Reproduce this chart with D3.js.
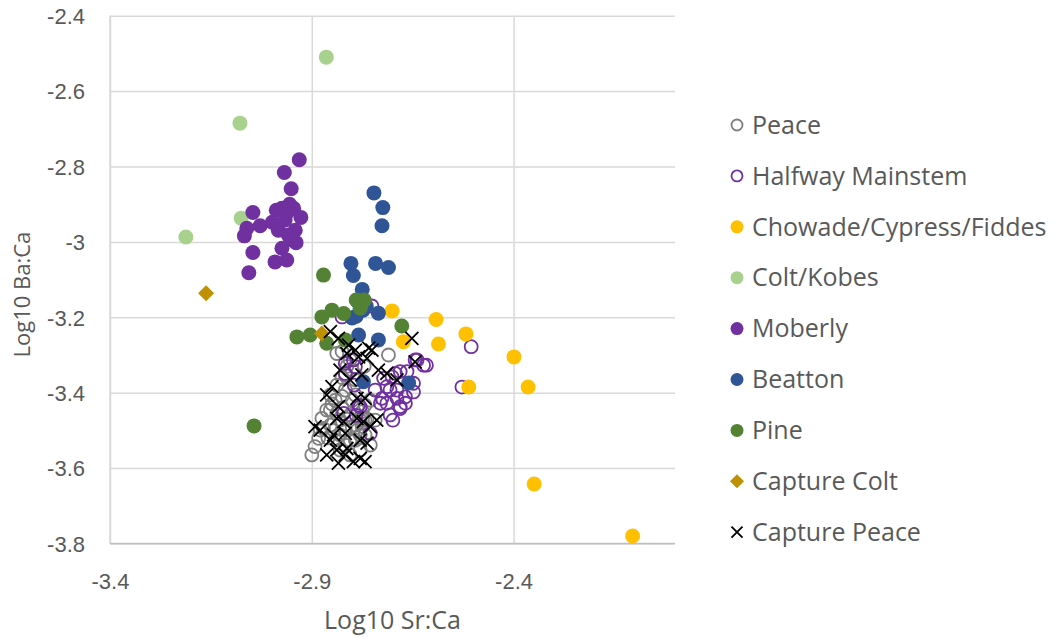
<!DOCTYPE html>
<html>
<head>
<meta charset="utf-8">
<script src="https://cdn.jsdelivr.net/npm/d3@7"></script>
<style>
  html, body { margin: 0; padding: 0; background: #fff; }
  svg { display: block; font-family: "Open Sans", "Noto Sans", sans-serif; }
</style>
</head>
<body>
<svg id="chart" width="1055" height="638"></svg>
<script>
// Log10 Sr:Ca (x) vs Log10 Ba:Ca (y) by sampling group
const peace = [
  [-2.900,-3.565],[-2.892,-3.543],[-2.883,-3.521],[-2.879,-3.499],[-2.875,-3.468],
  [-2.863,-3.446],[-2.871,-3.495],[-2.854,-3.486],[-2.842,-3.526],[-2.830,-3.552],
  [-2.817,-3.539],[-2.805,-3.565],[-2.792,-3.526],[-2.780,-3.552],[-2.768,-3.512],
  [-2.780,-3.473],[-2.805,-3.459],[-2.817,-3.499],[-2.830,-3.473],[-2.842,-3.420],
  [-2.817,-3.393],[-2.792,-3.406],[-2.768,-3.433],[-2.755,-3.420],[-2.743,-3.473],
  [-2.838,-3.296],[-2.825,-3.291],[-2.805,-3.313],[-2.817,-3.353],[-2.792,-3.366],
  [-2.710,-3.300],[-2.854,-3.406],[-2.755,-3.539],[-2.792,-3.486],[-2.830,-3.512],
  [-2.768,-3.473],[-2.805,-3.526],[-2.780,-3.512],[-2.854,-3.446],
  [-2.850,-3.430],[-2.838,-3.455],[-2.825,-3.440],[-2.813,-3.470],[-2.800,-3.490],
  [-2.788,-3.500],[-2.775,-3.490],[-2.763,-3.470],[-2.800,-3.420],[-2.788,-3.440],
  [-2.775,-3.450],[-2.838,-3.380],[-2.825,-3.360],[-2.813,-3.330],[-2.800,-3.340],
  [-2.825,-3.410],[-2.845,-3.500],[-2.860,-3.520],[-2.770,-3.330]
];
const halfwayMainstem = [
  [-2.751,-3.170],[-2.825,-3.199],[-2.505,-3.278],[-2.528,-3.385],[-2.616,-3.327],
  [-2.644,-3.313],[-2.648,-3.398],[-2.817,-3.322],[-2.792,-3.331],[-2.623,-3.327],
  [-2.639,-3.313],[-2.664,-3.344],[-2.693,-3.349],[-2.706,-3.393],[-2.689,-3.415],
  [-2.714,-3.428],[-2.681,-3.437],[-2.706,-3.459],[-2.784,-3.433],[-2.755,-3.508],
  [-2.821,-3.455],[-2.726,-3.415],[-2.668,-3.411],[-2.648,-3.375],[-2.668,-3.428],
  [-2.730,-3.428],[-2.681,-3.442],[-2.681,-3.344],[-2.722,-3.362],[-2.701,-3.358],
  [-2.797,-3.313],[-2.689,-3.393],[-2.714,-3.384],[-2.743,-3.393],[-2.699,-3.473],
  [-2.817,-3.349],[-2.780,-3.437],[-2.795,-3.380],[-2.790,-3.460]
];
const chowade = [
  [-2.592,-3.206],[-2.518,-3.244],[-2.586,-3.271],[-2.399,-3.305],[-2.511,-3.385],
  [-2.364,-3.385],[-2.349,-3.642],[-2.105,-3.780],[-2.673,-3.265],[-2.701,-3.183]
];
const coltKobes = [
  [-2.864,-2.510],[-3.078,-2.685],[-3.212,-2.987],[-3.075,-2.937]
];
const moberly = [
  [-2.931,-2.782],[-2.968,-2.816],[-2.951,-2.859],[-3.046,-2.922],[-2.988,-2.916],
  [-2.955,-2.900],[-2.945,-2.911],[-2.927,-2.935],[-3.028,-2.957],[-3.061,-2.964],
  [-3.067,-2.984],[-2.983,-2.969],[-2.966,-2.942],[-2.941,-2.969],[-2.958,-2.982],
  [-2.939,-3.002],[-2.974,-3.017],[-3.046,-3.028],[-2.991,-3.053],[-2.962,-3.048],
  [-3.056,-3.082],[-2.962,-2.924],[-2.974,-2.911],[-2.949,-2.995],[-2.998,-2.948]
];
const beatton = [
  [-2.746,-2.870],[-2.724,-2.909],[-2.726,-2.957],[-2.803,-3.057],[-2.742,-3.057],
  [-2.710,-3.068],[-2.797,-3.089],[-2.775,-3.126],[-2.785,-3.160],[-2.773,-3.181],
  [-2.790,-3.197],[-2.765,-3.170],[-2.735,-3.189],[-2.784,-3.247],[-2.735,-3.260],
  [-2.772,-3.371],[-2.660,-3.374],[-2.800,-3.202]
];
const pine = [
  [-2.871,-3.088],[-2.776,-3.163],[-2.780,-3.176],[-2.875,-3.199],[-2.850,-3.181],
  [-2.821,-3.190],[-2.677,-3.223],[-2.937,-3.252],[-2.904,-3.247],[-2.863,-3.269],
  [-2.817,-3.260],[-3.043,-3.488],[-2.790,-3.154],[-2.770,-3.154]
];
const captureColt = [
  [-3.162,-3.136],[-2.875,-3.243]
];
const capturePeace = [
  [-2.854,-3.238],[-2.834,-3.256],[-2.809,-3.274],[-2.792,-3.287],[-2.813,-3.296],
  [-2.784,-3.305],[-2.652,-3.256],[-2.644,-3.318],[-2.689,-3.366],[-2.751,-3.287],
  [-2.763,-3.309],[-2.735,-3.340],[-2.714,-3.349],[-2.759,-3.282],[-2.776,-3.353],
  [-2.850,-3.384],[-2.863,-3.406],[-2.788,-3.415],[-2.834,-3.437],[-2.772,-3.477],
  [-2.739,-3.473],[-2.879,-3.499],[-2.838,-3.468],[-2.817,-3.508],[-2.854,-3.526],
  [-2.838,-3.552],[-2.817,-3.565],[-2.780,-3.574],[-2.834,-3.587],[-2.768,-3.583],
  [-2.863,-3.565],[-2.892,-3.490],[-2.846,-3.512],[-2.821,-3.477],[-2.788,-3.468],
  [-2.813,-3.548],[-2.797,-3.583],[-2.780,-3.526],[-2.768,-3.415],[-2.755,-3.490],
  [-2.763,-3.534],[-2.805,-3.366],[-2.830,-3.340]
];

const seriesNames = ["Peace","Halfway Mainstem","Chowade/Cypress/Fiddes","Colt/Kobes",
  "Moberly","Beatton","Pine","Capture Colt","Capture Peace"];
const xTicks = [-3.4, -2.9, -2.4];
const yTicks = [-2.4, -2.6, -2.8, -3.0, -3.2, -3.4, -3.6, -3.8];
const xTitle = "Log10 Sr:Ca";
const yTitle = "Log10 Ba:Ca";

const series = [
  { name: seriesNames[0], data: peace,           shape: "open",    color: "#7f7f7f" },
  { name: seriesNames[1], data: halfwayMainstem, shape: "open",    color: "#7030a0" },
  { name: seriesNames[2], data: chowade,         shape: "circle",  color: "#ffc000" },
  { name: seriesNames[3], data: coltKobes,       shape: "circle",  color: "#a9d18e" },
  { name: seriesNames[4], data: moberly,         shape: "circle",  color: "#7030a0" },
  { name: seriesNames[5], data: beatton,         shape: "circle",  color: "#2f5597" },
  { name: seriesNames[6], data: pine,            shape: "circle",  color: "#548235" },
  { name: seriesNames[7], data: captureColt,     shape: "diamond", color: "#bf9000" },
  { name: seriesNames[8], data: capturePeace,    shape: "cross",   color: "#000000" }
];

const svg = d3.select("#chart");
const plot = { left: 110, right: 675, top: 15.7, bottom: 543.5 };

const x = d3.scaleLinear().domain([-3.4, -2.0]).range([plot.left, plot.right]);
const y = d3.scaleLinear().domain([-2.4, -3.8]).range([plot.top, plot.bottom]);

const gridColor = "#d9d9d9";
const textColor = "#595959";
// plain hyphen-minus labels, "-3" rather than "-3.0"
const fmt = d => String(+d.toFixed(1));

// horizontal gridlines
const yAxis = d3.axisLeft(y).tickValues(yTicks).tickSize(-(plot.right - plot.left)).tickFormat(fmt);
const gy = svg.append("g").attr("transform", `translate(${plot.left},0)`).call(yAxis);
gy.select(".domain").remove();
gy.selectAll(".tick line").attr("stroke", gridColor).attr("stroke-width", 1.5);
gy.selectAll(".tick text").attr("x", -25).attr("fill", textColor)
  .style("font-size", "22px").attr("dy", "0.35em");

// vertical gridlines
const xAxis = d3.axisBottom(x).tickValues(xTicks).tickSize(-(plot.bottom - plot.top)).tickFormat(fmt);
const gx = svg.append("g").attr("transform", `translate(0,${plot.bottom})`).call(xAxis);
gx.select(".domain").remove();
gx.selectAll(".tick line").attr("stroke", gridColor).attr("stroke-width", 1.5);
gx.selectAll(".tick text").attr("y", 38).attr("fill", textColor)
  .style("font-size", "22px").attr("dy", "0.35em");

// axis lines
svg.append("line").attr("x1", plot.left).attr("x2", plot.left)
  .attr("y1", plot.top).attr("y2", plot.bottom).attr("stroke", gridColor).attr("stroke-width", 1.5);
svg.append("line").attr("x1", plot.left).attr("x2", plot.right)
  .attr("y1", plot.bottom).attr("y2", plot.bottom).attr("stroke", "#bfbfbf").attr("stroke-width", 1.5);

// axis titles
svg.append("text").attr("x", (plot.left + plot.right) / 2).attr("y", 629)
  .attr("text-anchor", "middle").attr("fill", textColor).style("font-size", "25px").text(xTitle);
svg.append("text").attr("transform", `translate(30,${(plot.top + plot.bottom) / 2 + 15}) rotate(-90)`)
  .attr("text-anchor", "middle").attr("fill", textColor).style("font-size", "22px").text(yTitle);

function drawMarker(sel, shape, color, size) {
  if (shape === "circle") {
    sel.append("circle").attr("r", size).attr("fill", color);
  } else if (shape === "open") {
    sel.append("circle").attr("r", size - 1).attr("fill", "none")
      .attr("stroke", color).attr("stroke-width", 1.8);
  } else if (shape === "diamond") {
    const s = size + 0.5;
    sel.append("path").attr("d", `M0,${-s}L${s},0L0,${s}L${-s},0Z`).attr("fill", color);
  } else if (shape === "cross") {
    const s = size - 1;
    sel.append("path").attr("d", `M${-s},${-s}L${s},${s}M${-s},${s}L${s},${-s}`)
      .attr("stroke", color).attr("stroke-width", 1.8).attr("fill", "none");
  }
}

const marks = svg.append("g");
series.forEach(s => {
  const g = marks.append("g");
  s.data.forEach(d => {
    const m = g.append("g").attr("transform", `translate(${x(d[0])},${y(d[1])})`);
    drawMarker(m, s.shape, s.color, 7.5);
  });
});

// legend
const legend = svg.append("g");
const legendTop = 125, legendStep = 50.9;
series.forEach((s, i) => {
  const row = legend.append("g").attr("transform", `translate(737,${legendTop + i * legendStep})`);
  drawMarker(row, s.shape, s.color, 6.5);
  row.append("text").attr("x", 15).attr("dy", "0.35em").attr("fill", textColor)
    .style("font-size", "25px").text(s.name);
});
</script>
</body>
</html>
